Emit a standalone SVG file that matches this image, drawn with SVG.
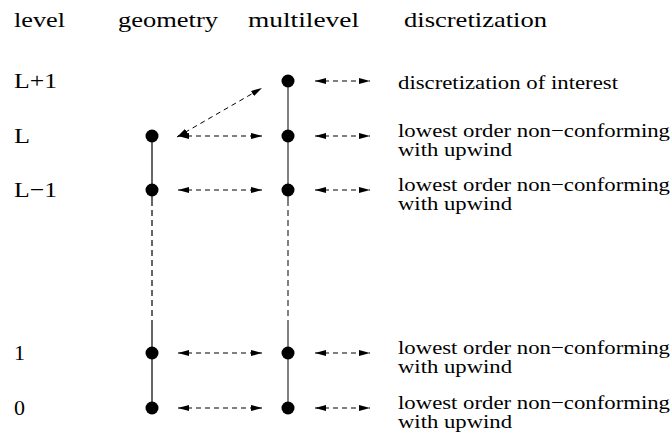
<svg xmlns="http://www.w3.org/2000/svg" width="671" height="437" viewBox="0 0 671 437">
  <style>
    .t { font-family: "Liberation Serif", "Times New Roman", serif; fill: #000; }
    .h { font-size: 22px; }
    .r { font-size: 19.5px; }
    .dot { fill: #000; }
    .arr { stroke: #000; stroke-width: 1; stroke-dasharray: 5 4; fill: none; marker-start: url(#ah); marker-end: url(#ah); }
    .geo { stroke: #000; stroke-width: 1.2; fill: none; }
    .ml { stroke: #808080; stroke-width: 2; fill: none; }
    .dash { stroke-dasharray: 6 4; }
  </style>
  <defs>
    <marker id="ah" viewBox="0 0 11 6" refX="11" refY="3" markerWidth="11" markerHeight="6" markerUnits="userSpaceOnUse" orient="auto-start-reverse">
      <path d="M0,0 L11,3 L0,6 Z" fill="#000"/>
    </marker>
  </defs>

  <g id="headers">
    <text class="t h" x="14" y="27" textLength="51" lengthAdjust="spacingAndGlyphs">level</text>
    <text class="t h" x="118" y="27" textLength="100" lengthAdjust="spacingAndGlyphs">geometry</text>
    <text class="t h" x="248" y="27" textLength="111" lengthAdjust="spacingAndGlyphs">multilevel</text>
    <text class="t h" x="404" y="27" textLength="143" lengthAdjust="spacingAndGlyphs">discretization</text>
  </g>

  <g id="level-labels">
    <text class="t h" x="14" y="88" textLength="43" lengthAdjust="spacingAndGlyphs">L+1</text>
    <text class="t h" x="14" y="143" textLength="16" lengthAdjust="spacingAndGlyphs">L</text>
    <text class="t h" x="14" y="197" textLength="43" lengthAdjust="spacingAndGlyphs">L−1</text>
    <text class="t h" x="14" y="360">1</text>
    <text class="t h" x="14" y="415">0</text>
  </g>

  <g id="connectors">
    <line class="geo" x1="152" y1="136" x2="152" y2="200"/>
    <line class="geo dash" x1="152" y1="200" x2="152" y2="322"/>
    <line class="geo" x1="152" y1="322" x2="152" y2="408"/>
    <line class="ml" x1="288" y1="81" x2="288" y2="200"/>
    <line class="ml dash" x1="288" y1="200" x2="288" y2="322"/>
    <line class="ml" x1="288" y1="322" x2="288" y2="408"/>
    <line class="arr" x1="177" y1="137" x2="262" y2="88"/>
    <line class="arr" x1="178" y1="136" x2="262" y2="136"/>
    <line class="arr" x1="178" y1="190" x2="262" y2="190"/>
    <line class="arr" x1="178" y1="353" x2="262" y2="353"/>
    <line class="arr" x1="178" y1="408" x2="262" y2="408"/>
    <line class="arr" x1="315" y1="81" x2="370" y2="81"/>
    <line class="arr" x1="315" y1="136" x2="370" y2="136"/>
    <line class="arr" x1="315" y1="190" x2="370" y2="190"/>
    <line class="arr" x1="315" y1="353" x2="370" y2="353"/>
    <line class="arr" x1="315" y1="408" x2="370" y2="408"/>
  </g>

  <g id="geometry-nodes">
    <g id="geo-L"><circle class="dot" cx="152" cy="136" r="6.5"/></g>
    <g id="geo-Lm1"><circle class="dot" cx="152" cy="190" r="6.5"/></g>
    <g id="geo-1"><circle class="dot" cx="152" cy="353" r="6.5"/></g>
    <g id="geo-0"><circle class="dot" cx="152" cy="408" r="6.5"/></g>
  </g>

  <g id="multilevel-nodes">
    <g id="ml-Lp1"><circle class="dot" cx="288" cy="81" r="6.5"/></g>
    <g id="ml-L"><circle class="dot" cx="288" cy="136" r="6.5"/></g>
    <g id="ml-Lm1"><circle class="dot" cx="288" cy="190" r="6.5"/></g>
    <g id="ml-1"><circle class="dot" cx="288" cy="353" r="6.5"/></g>
    <g id="ml-0"><circle class="dot" cx="288" cy="408" r="6.5"/></g>
  </g>

  <g id="discretization-labels">
    <g id="disc-Lp1">
      <text class="t r" x="398" y="89" textLength="220" lengthAdjust="spacingAndGlyphs">discretization of interest</text>
    </g>
    <g id="disc-L">
      <text class="t r" x="398" y="137" textLength="272" lengthAdjust="spacingAndGlyphs">lowest order non−conforming</text>
      <text class="t r" x="398" y="156" textLength="114" lengthAdjust="spacingAndGlyphs">with upwind</text>
    </g>
    <g id="disc-Lm1">
      <text class="t r" x="398" y="191" textLength="272" lengthAdjust="spacingAndGlyphs">lowest order non−conforming</text>
      <text class="t r" x="398" y="210" textLength="114" lengthAdjust="spacingAndGlyphs">with upwind</text>
    </g>
    <g id="disc-1">
      <text class="t r" x="398" y="354" textLength="272" lengthAdjust="spacingAndGlyphs">lowest order non−conforming</text>
      <text class="t r" x="398" y="373" textLength="114" lengthAdjust="spacingAndGlyphs">with upwind</text>
    </g>
    <g id="disc-0">
      <text class="t r" x="398" y="409" textLength="272" lengthAdjust="spacingAndGlyphs">lowest order non−conforming</text>
      <text class="t r" x="398" y="428" textLength="114" lengthAdjust="spacingAndGlyphs">with upwind</text>
    </g>
  </g>
</svg>
